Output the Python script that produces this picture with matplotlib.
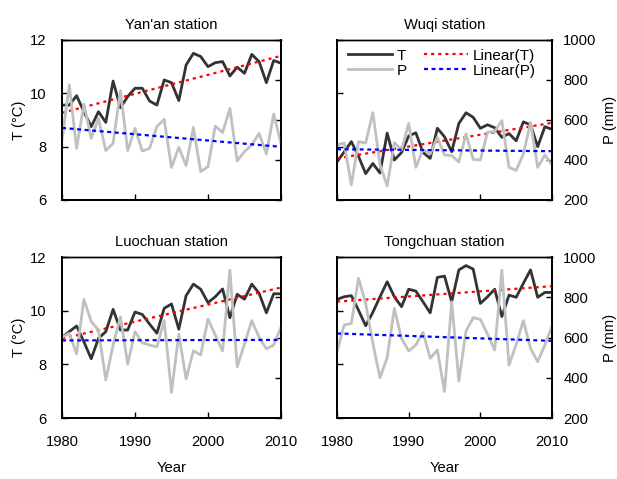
import numpy as np
import matplotlib
matplotlib.use('Agg')
import matplotlib.pyplot as plt

plt.rcParams['font.family'] = ['Liberation Sans', 'DejaVu Sans']
plt.rcParams['font.size'] = 10.6

# Jahre 1980-2010
years = list(range(1980, 2011))

# Temperatur (T, °C) und Niederschlag (P, mm) je Station
yanan_t = [9.56, 9.56, 9.91, 9.31, 8.75, 9.31, 8.91, 10.46, 9.46, 9.88, 10.19, 10.19, 9.71, 9.56, 10.50, 10.40,
           9.73, 11.06, 11.50, 11.38, 11.00, 11.15, 11.19, 10.65, 10.98, 10.75, 11.46, 11.19, 10.40, 11.23, 11.13]
yanan_p = [500, 775, 458, 680, 508, 608, 447, 483, 747, 447, 558, 445, 458, 567, 603, 362,
           463, 372, 563, 342, 367, 570, 537, 658, 395, 442, 475, 533, 430, 630, 483]

wuqi_t = [7.43, 7.80, 8.19, 7.64, 6.99, 7.37, 7.01, 8.51, 7.50, 7.78, 8.40, 8.52, 7.78, 7.56, 8.69, 8.37,
          7.81, 8.87, 9.27, 9.10, 8.69, 8.82, 8.71, 8.35, 8.49, 8.22, 8.93, 8.82, 8.00, 8.75, 8.65]
wuqi_p = [475, 485, 275, 492, 485, 637, 375, 270, 487, 450, 583, 363, 453, 430, 513, 425,
          422, 390, 531, 403, 400, 539, 542, 597, 363, 348, 430, 588, 363, 425, 375]

luochuan_t = [9.01, 9.22, 9.43, 8.84, 8.21, 8.97, 9.22, 10.05, 9.28, 9.28, 9.95, 9.86, 9.50, 9.16, 10.09, 10.25,
              9.31, 10.56, 10.99, 10.80, 10.30, 10.52, 10.81, 9.74, 10.61, 10.43, 10.99, 10.65, 9.92, 10.63, 10.63]
luochuan_p = [601, 621, 518, 790, 679, 637, 389, 563, 703, 468, 629, 574, 563, 554, 684, 328,
              617, 394, 534, 513, 692, 612, 533, 935, 455, 568, 684, 601, 544, 563, 651]

tongchuan_t = [10.42, 10.52, 10.56, 10.02, 9.44, 9.94, 10.52, 11.08, 10.52, 10.15, 10.80, 10.73, 10.33, 9.92, 11.24, 11.29,
               10.33, 11.52, 11.68, 11.55, 10.27, 10.52, 10.80, 9.78, 10.58, 10.50, 11.02, 11.52, 10.50, 10.68, 10.68]
tongchuan_p = [530, 662, 670, 894, 770, 571, 400, 500, 745, 596, 533, 563, 626, 497, 538, 331,
               778, 384, 632, 699, 690, 617, 538, 935, 463, 566, 684, 546, 480, 563, 657]

stations = ["Yan'an station", "Wuqi station", "Luochuan station", "Tongchuan station"]
t_data = [yanan_t, wuqi_t, luochuan_t, tongchuan_t]
p_data = [yanan_p, wuqi_p, luochuan_p, tongchuan_p]

# Achsenpositionen (links, unten, Breite, Hoehe)
positions = [[0.1005, 0.5825, 0.3549, 0.3340],
             [0.5462, 0.5825, 0.3485, 0.3340],
             [0.1005, 0.1273, 0.3549, 0.3361],
             [0.5462, 0.1273, 0.3485, 0.3361]]

fig = plt.figure(figsize=(6.17, 4.79), dpi=100)

for k in range(4):
    ax = fig.add_axes(positions[k])
    ax2 = ax.twinx()
    x = np.array(years)

    t_line, = ax.plot(x, t_data[k], color='#333333', lw=2, label='T')
    t_fit = np.polyfit(x, t_data[k], 1)
    tl_line, = ax.plot(x, np.polyval(t_fit, x), color='red', lw=1.6,
                       linestyle=(0, (1.4, 1.8)), label='Linear(T)')

    p_line, = ax2.plot(x, p_data[k], color='#c0c0c0', lw=2, label='P')
    p_fit = np.polyfit(x, p_data[k], 1)
    pl_line, = ax2.plot(x, np.polyval(p_fit, x), color='blue', lw=1.6,
                        linestyle=(0, (1.8, 1.6)), label='Linear(P)')

    ax.set_xlim(1980, 2010)
    ax.set_ylim(6, 12)
    ax2.set_ylim(200, 1000)
    ax.set_xticks([1980, 1990, 2000, 2010])
    ax.set_yticks([6, 8, 10, 12])
    ax2.set_yticks([200, 400, 600, 800, 1000])

    for a in (ax, ax2):
        for s in a.spines.values():
            s.set_linewidth(1.3)
        a.spines['top'].set_linewidth(1.0)

    left_col = k in (0, 2)
    bottom_row = k in (2, 3)
    ax.tick_params(axis='both', direction='in', length=4, width=1)
    ax.tick_params(axis='x', pad=12, labelbottom=bottom_row)
    ax.tick_params(axis='y', pad=11, labelleft=left_col)
    ax2.tick_params(axis='y', direction='in', length=4, width=1, pad=8, labelright=not left_col)

    ax.set_title(stations[k], pad=8, fontsize=10.6)

    if left_col:
        ax.set_ylabel('T (°C)')
        ax.yaxis.set_label_coords(-0.165, 0.5)
    else:
        ax2.set_ylabel('P (mm)')
        ax2.yaxis.set_label_coords(1.235, 0.5)

    if bottom_row:
        ax.set_xlabel('Year')
        ax.xaxis.set_label_coords(0.5, -0.27)

    if k == 1:
        lines = [t_line, p_line, tl_line, pl_line]
        ax2.legend(lines, [l.get_label() for l in lines], loc='upper left',
                   bbox_to_anchor=(0.05, 0.945), ncol=2, frameon=False, fontsize=11,
                   handlelength=2.9, handletextpad=0.3, columnspacing=1.1,
                   labelspacing=0.05, borderaxespad=0, borderpad=0)

fig.savefig('out.png', dpi=100)
